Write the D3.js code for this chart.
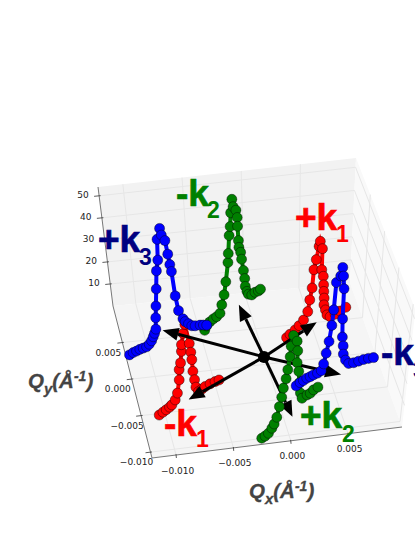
<!DOCTYPE html>
<html><head><meta charset="utf-8">
<style>html,body{margin:0;padding:0;background:#fff}svg{display:block}</style>
<script src="https://cdn.jsdelivr.net/npm/d3@7/dist/d3.min.js"></script>
</head><body><svg id="c" width="415" height="537"></svg>
<script>
// ---- tick values
const xTicks = [-0.010, -0.005, 0.000, 0.005];
const yTicks = [0.005, 0.000, -0.005, -0.010];
const zTicks = [10, 20, 30, 40, 50];

// ---- six dispersion traces: position along the momentum cut (0..1) and energy
const plusK3Pos = [0,.048,.092,.135,.178,.222,.258,.291,.316,.336,.357,.368,.383,.405,.426,.453,.465,.505,.519,.556,.577,.592,.605,.629,.656,.704,.73,.77,.81,.852,.916,.958,1];
const plusK3E   = [1.8,2.2,2.3,2.5,2.5,2.5,3.2,4.3,5.8,7.1,8.7,13.7,18.8,26.2,34.1,38.6,47.8,52.2,49,46,39.6,34.7,31.4,20.1,13.1,8.8,7.2,5.7,4.3,3.7,3.2,2.7,2.1];
const plusK3Cut = [-0.0118,0.00272,-0.00432,0.00553];

const minusK2Pos = [0,.036,.095,.156,.215,.276,.312,.359,.397,.445,.456,.481,.503,.519,.546,.562,.607,.625,.627,.634,.639,.666,.679,.706,.724,.731,.758,.783,.842,.901,.961,1];
const minusK2E   = [1.9,3.2,3.9,4.1,4,4.4,7.5,11.1,16.2,23.9,27.7,35.2,38.8,44.6,50.1,46.5,44.1,40.5,36.6,30.1,27,24.3,21,15.5,11.6,8,5.3,3.6,2.2,2.3,1.8,1.9];
const minusK2Cut = [-0.00462,0.00492,0.00142,0.00975];

const plusK1Pos = [0,.056,.141,.208,.281,.349,.378,.412,.434,.468,.508,.525,.564,.564,.593,.603,.61,.62,.62,.649,.678,.734,.819,.903,1];
const plusK1E   = [2,2.7,3.5,4.5,6,8.8,13.6,18.4,26.2,30.2,35.5,37.5,33.7,24.4,21.1,17.2,14.2,11.1,8.1,5.5,2.9,1.4,1.3,1.6,2];
const plusK1Cut = [0.00233,0.00272,0.0084,0.00605];

const minusK3Pos = [0,.05,.092,.135,.178,.22,.272,.32,.347,.374,.404,.43,.445,.461,.51,.53,.546,.56,.562,.572,.589,.597,.63,.674,.739,.804,.869,.933,1];
const minusK3E   = [2.1,2.9,3.3,3.8,3.9,4.2,4.3,4.8,7.5,12,16.9,23.8,30.6,42.7,45,48.6,44.5,38.6,25,16.7,12.5,8.7,5.6,3.5,3,2.9,2.8,2.5,2];
const minusK3Cut = [0.0018,-0.00404,0.00924,-0.00134];

const minusK1Pos = [0,.062,.117,.173,.213,.272,.315,.358,.368,.397,.423,.43,.467,.502,.553,.568,.577,.583,.602,.617,.655,.712,.767,.85,.933,1];
const minusK1E   = [2,2.3,2.5,2.8,3.2,4.5,6.9,12.2,16.7,19.3,24.1,27,31.5,35,25.6,21.4,17.9,12.5,8.4,4.8,2.2,2.4,2.7,2.6,2.3,2];
const minusK1Cut = [-0.0106,-0.0058,-0.00464,-0.00202];

const plusK2Pos = [0,.058,.117,.177,.217,.263,.307,.346,.373,.418,.445,.482,.496,.534,.598,.612,.607,.639,.655,.679,.711,.802,.861,.92,1];
const plusK2E   = [2.1,1.7,1.6,2.5,3.5,5.5,9.3,12.7,16.2,19.4,22.9,27.9,32.4,36.4,32.3,27.6,22.3,17.6,12,6.8,3.7,3.1,2.5,2.7,2.1];
const plusK2Cut = [-0.00249,-0.01059,0.00362,-0.00456];

// ---- in-plane wave vectors drawn as arrows from the centre
const arrowOrigin = [-0.00022, 0.00012];
const arrowQx = [-0.00836,-0.00777,-0.00099,0.00533,0.00588,0.00059];
const arrowQy = [0.0052,-0.00448,0.00758,0.00409,-0.00348,-0.00847];
const arrowE = 3;

// ---- projection of the 3D box onto the page
const sx = d3.scaleLinear().domain([-0.0121,0.0097]).range([0,1]);
const sy = d3.scaleLinear().domain([0.0100,-0.0108]).range([0,1]);
const sz = d3.scaleLinear().domain([0,54]).range([0,1]);
const floorC = {bl:[113,306],br:[350,283],fl:[152,458],fr:[402,427]};
const topC   = {bl:[98,187],br:[356,158],fl:[141,339],fr:[415.5,310]};
function bil(c,u,w,i){return (1-w)*((1-u)*c.bl[i]+u*c.br[i])+w*((1-u)*c.fl[i]+u*c.fr[i]);}
function proj(qx,qy,e){
  const u=sx(qx),w=sy(qy),t=sz(e);
  return [0,1].map(i=>(1-t)*bil(floorC,u,w,i)+t*bil(topC,u,w,i));
}
const xMin=sx.domain()[0],xMax=sx.domain()[1],yBack=sy.domain()[0],yFront=sy.domain()[1],zTop=sz.domain()[1];

const svg=d3.select('#c');
function poly(pts,fill){svg.append('path').attr('d','M'+pts.map(p=>p.join(',')).join('L')+'Z').attr('fill',fill);}
// panes
poly([proj(xMin,yBack,0),proj(xMax,yBack,0),proj(xMax,yBack,zTop),proj(xMin,yBack,zTop)],'#f2f2f2');
poly([proj(xMax,yBack,0),proj(xMax,yFront,0),proj(xMax,yFront,zTop),proj(xMax,yBack,zTop)],'#f9f9f9');
poly([proj(xMin,yBack,0),proj(xMax,yBack,0),proj(xMax,yFront,0),proj(xMin,yFront,0)],'#f5f5f5');
// grid
const grid=svg.append('g').attr('fill','none').attr('stroke','#e6e6e6').attr('stroke-width',1);
const ln=d3.line();
xTicks.forEach(v=>grid.append('path').attr('d',ln([proj(v,yFront,0),proj(v,yBack,0),proj(v,yBack,zTop)])));
yTicks.forEach(v=>grid.append('path').attr('d',ln([proj(xMin,v,0),proj(xMax,v,0),proj(xMax,v,zTop)])));
zTicks.forEach(v=>grid.append('path').attr('d',ln([proj(xMin,yBack,v),proj(xMax,yBack,v),proj(xMax,yFront,v)])));
// axis lines
const ax=svg.append('g').attr('fill','none').attr('stroke','#777').attr('stroke-width',1);
ax.append('path').attr('d',ln([proj(xMin,yBack,zTop),proj(xMin,yBack,0),proj(xMin,yFront,0),proj(xMax,yFront,0)]));
// ticks and labels
const tk=svg.append('g').attr('font-family','"DejaVu Sans"').attr('font-size',9).attr('fill','#222');
const fmt=v=>d3.format('.3f')(v).replace('-','\u2212');
function tick(p,dx,dy){tk.append('line').attr('x1',p[0]-dx*.3).attr('y1',p[1]-dy*.3).attr('x2',p[0]+dx).attr('y2',p[1]+dy).attr('stroke','#333').attr('stroke-width',.8);}
xTicks.forEach(v=>{const p=proj(v,yFront,0);tick(p,0.3,3);
  tk.append('text').attr('x',p[0]+1.5).attr('y',p[1]+18.5).attr('text-anchor','middle').text(fmt(v));});
yTicks.forEach(v=>{const p=proj(xMin,v,0);tick(p,-5,.6);
  tk.append('text').attr('x',p[0]-14).attr('y',p[1]+13).attr('text-anchor','middle').text(fmt(v));});
zTicks.forEach(v=>{const p=proj(xMin,yBack,v);tick(p,-5,.5);
  tk.append('text').attr('x',p[0]-10.5).attr('y',p[1]+2).attr('text-anchor','end').text(v);});

// traces
function cutPts(pos,e,cut){
  return pos.map((s,i)=>{
    const qx=d3.interpolateNumber(cut[0],cut[2])(s),qy=d3.interpolateNumber(cut[1],cut[3])(s);
    return proj(qx,qy,e[i]);
  });
}
function trace(pts,col){
  const g=svg.append('g');
  g.append('path').attr('d',ln(pts)).attr('fill','none').attr('stroke',col).attr('stroke-width',4);
  g.selectAll('circle').data(pts).join('circle').attr('cx',d=>d[0]).attr('cy',d=>d[1]).attr('r',5)
    .attr('fill',col).attr('stroke','#000').attr('stroke-opacity',.6).attr('stroke-width',.7);
}
trace(cutPts(plusK1Pos,plusK1E,plusK1Cut),'#ff0000');
trace(cutPts(minusK1Pos,minusK1E,minusK1Cut),'#ff0000');

// arrows
const c0=proj(arrowOrigin[0],arrowOrigin[1],arrowE);
const ag=svg.append('g');
arrowQx.forEach((qx,i)=>{
  const tip=proj(qx,arrowQy[i],arrowE);
  const a=Math.atan2(tip[1]-c0[1],tip[0]-c0[0]),L=16,W=6.5;
  const b=[tip[0]-L*Math.cos(a),tip[1]-L*Math.sin(a)];
  const nx=-Math.sin(a),ny=Math.cos(a);
  ag.append('line').attr('x1',c0[0]).attr('y1',c0[1]).attr('x2',b[0]).attr('y2',b[1]).attr('stroke','#000').attr('stroke-width',3);
  ag.append('path').attr('d',ln([tip,[b[0]+nx*W,b[1]+ny*W],[b[0]-nx*W,b[1]-ny*W]])+'Z').attr('fill','#000');
});
ag.append('circle').attr('cx',c0[0]).attr('cy',c0[1]).attr('r',6).attr('fill','#000');

trace(cutPts(plusK2Pos,plusK2E,plusK2Cut),'#008000');
trace(cutPts(minusK2Pos,minusK2E,minusK2Cut),'#008000');
trace(cutPts(plusK3Pos,plusK3E,plusK3Cut),'#0000ff');
trace(cutPts(minusK3Pos,minusK3E,minusK3Cut),'#0000ff');

// labels
const labelText=['+k','-k','+k','-k','+k','-k'];
const labelSub=['3','2','1','1','2','3'];
const labelCol=['#000080','#008000','#ff0000','#ff0000','#008000','#000080'];
const labelX=[98,176,295,164,300,381];
const labelY=[252,206,230,436,428,365];
const subX=[139,207,336,196,342,413];
const subY=[265,218,242,447,442,378];
labelText.forEach((t,i)=>{
  svg.append('text').attr('x',labelX[i]).attr('y',labelY[i]).attr('font-family','"Liberation Sans"').attr('font-weight','bold')
    .attr('font-size',37).attr('fill',labelCol[i]).attr('stroke',labelCol[i]).attr('stroke-width',.7).text(t);
  svg.append('text').attr('x',subX[i]).attr('y',subY[i]).attr('font-family','"Liberation Sans"').attr('font-weight','bold')
    .attr('font-size',23).attr('fill',labelCol[i]).text(labelSub[i]);
});
function axisLabel(x,y,sub){
  const t=svg.append('text').attr('x',x).attr('y',y).attr('font-family','"Liberation Sans"').attr('font-weight','bold')
    .attr('font-style','italic').attr('font-size',20.5).attr('fill','#444').attr('stroke','#444').attr('stroke-width',.3);
  t.append('tspan').text('Q');
  t.append('tspan').attr('dy',6).attr('font-size',15).text(sub);
  t.append('tspan').attr('dy',-6).text('(Å');
  t.append('tspan').attr('dy',-7).attr('font-size',14).text('-1');
  t.append('tspan').attr('dy',7).text(')');
}
axisLabel(28,388,'y');
axisLabel(249,498,'x');
</script></body></html>
